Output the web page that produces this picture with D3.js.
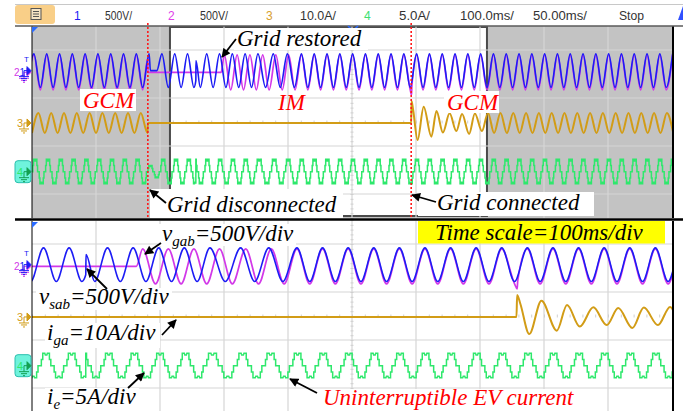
<!DOCTYPE html>
<html lang="en">
<head>
<meta charset="utf-8">
<title>Scope capture</title>
<script src="https://d3js.org/d3.v7.min.js"></script>
<style>
  body { margin: 0; background: #fff; overflow: hidden; }
  .ann { font-family: "Liberation Serif", "Times New Roman", serif; font-style: italic; font-size: 23px; }
  .bar { font-family: "Liberation Sans", Arial, sans-serif; font-size: 12px; }
</style>
</head>
<body>
<script>
// time in ms, values in channel units (V for ch1/ch2, A for ch3/ch4)
var ch1Pts = [
  [-7,-350],[3,350],[13,-350],[23,350],[33,-350],[43,350],[53,-350],[63,350],[73,-350],[83,350],
  [93,-350],[103,350],[113,-350],[123,350],[133,-350],[143,350],[153,-350],[163,350],[173,-350],[183,350],
  [185,0],[195,0],[203,350],[213,-350],[223,350],[233,-350],[243,350],[253,-350],[256,-210],[256.2,210],
  [263,-350],[273,350],[283,-350],[293,350],[303,-350],[313,350],[323,-350],[333,350],[343,-350],[353,350],
  [365,-350],[377,350],[388,-350],[399,350],[410,-350],[421,350],[431,-350],[441,350],[451,-350],[461,350],
  [471,-350],[481,350],[491,-350],[501,350],[511,-350],[521,350],[531,-350],[541,350],[551,-350],[561,350],
  [571,-350],[581,350],[591,-350],[601,350],[611,-350],[621,350],[631,-350],[641,350],[651,-350],[661,350],
  [671,-350],[681,350],[691,-350],[701,350],[711,-350],[721,350],[731,-350],[741,350],[751,-350],[761,350],
  [771,-350],[781,350],[791,-350],[801,350],[811,-350],[821,350],[831,-350],[841,350],[851,-350],[861,350],
  [871,-350],[881,350],[891,-350],[901,350],[911,-350],[921,350],[931,-350],[941,350],[951,-350],[961,350],
  [971,-350],[981,350],[991,-350],[1001,350]
];
var ch2Pts = [
  [-7,-365],[3,365],[13,-365],[23,365],[33,-365],[43,365],[53,-365],[63,365],[73,-365],[83,365],
  [93,-365],[103,365],[113,-365],[123,365],[133,-365],[143,365],[153,-365],[163,365],[173,-365],[181,295],
  [181.3,0],[295.5,0],[300.5,365],[310.5,-365],[320.5,365],[330.5,-365],[340.5,365],[350.5,-365],[360.5,365],[370.5,-365],
  [381,365],[391,-365],[401,365],[411,-365],[421,365],[431,-365],[441,365],[451,-365],[461,365],[471,-365],
  [481,365],[491,-365],[501,365],[511,-365],[521,365],[531,-365],[541,365],[551,-365],[561,365],[571,-365],
  [581,365],[591,-365],[593,-470],[593.5,-300],[601,365],[611,-365],[621,365],[631,-365],[641,365],[651,-365],
  [661,365],[671,-365],[681,365],[691,-365],[701,365],[711,-365],[721,365],[731,-365],[741,365],[751,-365],
  [761,365],[771,-365],[781,365],[791,-365],[801,365],[811,-365],[821,365],[831,-365],[841,365],[851,-365],
  [861,365],[871,-365],[881,365],[891,-365],[901,365],[911,-365],[921,365],[931,-365],[941,365],[951,-365],
  [961,365],[971,-365],[981,365],[991,-365],[1001,365]
];
var ch3Pts = [
  [0,-4.2],[10,4.2],[20,-4.2],[30,4.2],[40,-4.2],[50,4.2],[60,-4.2],[70,4.2],[80,-4.2],[90,4.2],
  [100,-4.2],[110,4.2],[120,-4.2],[130,4.2],[140,-4.2],[150,4.2],[160,-4.2],[170,4.2],[180.5,-4.2],[181,0],
  [592.5,0],[593,9.2],[595.5,5.5],[602.5,-7.1],[612,6.8],[624,-5.7],[632,5.0],[642,-4.0],[652.5,4.0],[663,-3.4],
  [672,3.7],[683,-4.6],[692,3.9],[703,-3.4],[712.5,4.2],[722,-4.2],[732,4.2],[742,-4.2],[752,4.2],[762,-4.2],
  [772,4.2],[782,-4.2],[792,4.2],[802,-4.2],[812,4.2],[822,-4.2],[832,4.2],[842,-4.2],[852,4.2],[862,-4.2],
  [872,4.2],[882,-4.2],[892,4.2],[902,-4.2],[912,4.2],[922,-4.2],[932,4.2],[942,-4.2],[952,4.2],[962,-4.2],
  [972,4.2],[982,-4.2],[992,4.2],[1002,-4.2]
];
// one period of the stepped EV current: [phase 0..1, amps]
var ch4Shape = [
  [0,0],[0.065,0],[0.065,1.3],[0.12,1.3],[0.12,2.6],[0.2,2.6],[0.22,2.2],[0.28,2.2],[0.3,2.6],[0.38,2.6],
  [0.38,1.3],[0.435,1.3],[0.435,0],[0.565,0],[0.565,-1.3],[0.62,-1.3],[0.62,-2.5],[0.7,-2.5],[0.72,-2.2],
  [0.78,-2.2],[0.8,-2.5],[0.88,-2.5],[0.88,-1.3],[0.935,-1.3],[0.935,0],[1,0]
];
// cycles of ch4: [start ms, period ms, drawn from, amplitude factor]
var ch4Cycles = [
  [0,20],[20,20],[40,20],[60,20],[80,20],[100,20],[120,20],[140,20],[160,20],[180,20,180,0.5],
  [200,20],[220,20],[240,20],[249,20,256],[269,20],[289,20],[309,20],[329,20],[349,24],[373,22],
  [395,21.5],[416.5,20],[436.5,20],[456.5,20],[476.5,20],[496.5,20],[516.5,20],[536.5,20],[556.5,20],[576.5,20],
  [596.5,20],[616.5,20],[636.5,20],[656.5,20],[676.5,20],[696.5,20],[716.5,20],[736.5,20],[756.5,20],[776.5,20],
  [796.5,20],[816.5,20],[836.5,20],[856.5,20],[876.5,20],[896.5,20],[916.5,20],[936.5,20],[956.5,20],[976.5,20],
  [996.5,20]
];
var mainWindow = [0, 1000];
var zoomWindow = [214, 714];
var eventTimes = [181, 592.5];   // grid disconnected, grid connected

var chNames = ["1", "2", "3", "4"];
var chScale = [500, 500, 10, 5];          // units per division
var chOffset = [2.14, 2.07, -0.04, -2.07]; // ground position, divisions
var chColor = ["#1c1cf5", "#d238e8", "#d29c16", "#2ee86c"];

var barLabels = ["1", "500V/", "2", "500V/", "3", "10.0A/", "4", "5.0A/", "100.0ms/", "50.00ms/", "Stop"];

var w = 683, h = 411;
var svg = d3.select("body").append("svg").attr("width", w).attr("height", h);

var defs = svg.append("defs");
defs.append("marker").attr("id", "ah").attr("viewBox", "0 0 10 10")
  .attr("refX", 9).attr("refY", 5).attr("markerWidth", 10).attr("markerHeight", 9)
  .attr("markerUnits", "userSpaceOnUse").attr("orient", "auto")
  .append("path").attr("d", "M0,0L10,5L0,10z").attr("fill", "#000");

var xUp = d3.scaleLinear().domain(mainWindow).range([32, 672]);
var xLow = d3.scaleLinear().domain(zoomWindow).range([32, 672]);
var yUp = d3.scaleLinear().domain([-4, 4]).range([218, 26]);
var yLow = d3.scaleLinear().domain([-4, 4]).range([412, 220]);

var panels = [
  {id: "up", x: xUp, y: yUp, top: 26, bottom: 218, tick: 20},
  {id: "low", x: xLow, y: yLow, top: 221, bottom: 411, tick: 10}
];

// ---- top bar ----
svg.append("line").attr("x1", 15).attr("x2", 683).attr("y1", 4.5).attr("y2", 4.5)
  .attr("stroke", "#c8c8c8");
svg.append("rect").attr("x", 15).attr("y", 5).attr("width", 40).attr("height", 19).attr("rx", 3)
  .attr("fill", "#f9cf88");
svg.append("rect").attr("x", 31).attr("y", 8.5).attr("width", 10).attr("height", 11)
  .attr("fill", "#f6e4c4").attr("stroke", "#555");
[11.5, 14, 16.5].forEach(function(yy) {
  svg.append("line").attr("x1", 33).attr("x2", 39).attr("y1", yy).attr("y2", yy).attr("stroke", "#555");
});
var barX = [74, 105, 168, 200, 266, 300, 364, 399, 460, 533, 619];
var barW = [0, 27, 0, 28, 0, 36, 0, 31, 54, 54, 25];
var barCol = [chColor[0], "#333", "#e040e8", "#333", "#d8a030", "#333", "#3ce070", "#333", "#333", "#333", "#333"];
svg.selectAll(".barlab").data(barLabels).enter().append("text")
  .attr("class", "bar")
  .attr("x", function(d, i) { return barX[i]; })
  .attr("y", 19.5)
  .attr("fill", function(d, i) { return barCol[i]; })
  .each(function(d, i) {
    if (barW[i]) d3.select(this).attr("textLength", barW[i]).attr("lengthAdjust", "spacingAndGlyphs");
  })
  .text(function(d) { return d; });
svg.append("path").attr("d", "M683,6L678,20L683,20z").attr("fill", "#3050ff");

// ---- panels ----
function yOf(p, ch, v) { return p.y(v / chScale[ch] + chOffset[ch]); }

function valAt(shape, ph) {
  var v = shape[0][1];
  for (var i = 0; i < shape.length; i++) { if (shape[i][0] <= ph) v = shape[i][1]; else break; }
  return v;
}

function ch4Points() {
  var pts = [];
  ch4Cycles.forEach(function(c, i) {
    var t0 = c[0], per = c[1];
    var from = c.length > 2 ? c[2] : t0;
    var k = c.length > 3 ? c[3] : 1;
    var nx = ch4Cycles[i + 1];
    var end = nx ? (nx.length > 2 ? nx[2] : nx[0]) : t0 + per;
    pts.push([from, k * valAt(ch4Shape, (from - t0) / per)]);
    ch4Shape.forEach(function(s) {
      var t = t0 + s[0] * per;
      if (t > from && t < end) pts.push([t, k * s[1]]);
    });
    pts.push([end, k * valAt(ch4Shape, (end - t0) / per)]);
  });
  return pts;
}
var ch4Pts = ch4Points();

function markerText(m, x, y, size) {
  return m.append("text").attr("x", x).attr("y", y)
    .style("font-family", "Liberation Sans, Arial, sans-serif").style("font-size", size);
}

panels.forEach(function(p) {
  var g = svg.append("g");
  defs.append("clipPath").attr("id", "clip-" + p.id).append("rect")
    .attr("x", 32).attr("y", p.top).attr("width", 641).attr("height", p.bottom - p.top);

  if (p.id === "up") {
    g.append("rect").attr("x", 32).attr("y", p.top).attr("width", 641).attr("height", p.bottom - p.top)
      .attr("fill", "#c3c3c3");
    g.append("rect").attr("x", xUp(zoomWindow[0]) + 1).attr("y", 27)
      .attr("width", xUp(zoomWindow[1]) - xUp(zoomWindow[0]) - 3).attr("height", 189)
      .attr("fill", "#fff").attr("stroke", "#4a4a4a").attr("stroke-width", 2);
  } else {
    g.append("rect").attr("x", 32).attr("y", p.top).attr("width", 641).attr("height", p.bottom - p.top)
      .attr("fill", "#fff");
  }

  // graticule
  var gx = d3.range(1, 10).map(function(i) { return 32 + i * 64; });
  g.selectAll(".vg").data(gx).enter().append("line")
    .attr("x1", function(d) { return d; }).attr("x2", function(d) { return d; })
    .attr("y1", p.top).attr("y2", p.bottom).attr("stroke", "#d6d6d6").attr("stroke-width", 1.2);
  g.selectAll(".hg").data([-3, -1, 1, 3]).enter().append("line")
    .attr("x1", 32).attr("x2", 673)
    .attr("y1", function(d) { return p.y(d); }).attr("y2", function(d) { return p.y(d); })
    .attr("stroke", "#d6d6d6").attr("stroke-width", 1.2);
  var tAxis = g.append("g").attr("transform", "translate(0," + (p.y(0) - 1.5) + ")")
    .call(d3.axisBottom(p.x).tickValues(d3.range(p.x.domain()[0], p.x.domain()[1] + 1, p.tick))
      .tickSize(3).tickFormat(""));
  tAxis.select(".domain").remove();
  tAxis.selectAll("line").attr("stroke", "#cfcfcf");
  var vAxis = g.append("g").attr("transform", "translate(" + (352 - 1.5) + ",0)")
    .call(d3.axisRight(p.y).tickValues(d3.range(-4, 4.01, 0.2)).tickSize(3).tickFormat(""));
  vAxis.select(".domain").remove();
  vAxis.selectAll("line").attr("stroke", "#cfcfcf");

  var traces = g.append("g").attr("clip-path", "url(#clip-" + p.id + ")");
  var smooth = function(ch) {
    return d3.line().x(function(d) { return p.x(d[0]); }).y(function(d) { return yOf(p, ch, d[1]); })
      .curve(d3.curveMonotoneX);
  };
  traces.append("path").attr("d", smooth(1)(ch2Pts)).attr("fill", "none")
    .attr("stroke", chColor[1]).attr("stroke-width", 1.7);
  traces.append("path").attr("d", smooth(0)(ch1Pts)).attr("fill", "none")
    .attr("stroke", chColor[0]).attr("stroke-width", 1.6);
  traces.append("path").attr("d", smooth(2)(ch3Pts)).attr("fill", "none")
    .attr("stroke", chColor[2]).attr("stroke-width", 2);
  traces.append("path")
    .attr("d", d3.line().x(function(d) { return p.x(d[0]); }).y(function(d) { return yOf(p, 3, d[1]); })(ch4Pts))
    .attr("fill", "none").attr("stroke", chColor[3]).attr("stroke-width", 1.5);

  // frame
  g.append("line").attr("x1", 32).attr("x2", 32).attr("y1", p.top).attr("y2", p.bottom).attr("stroke", "#000");
  g.append("line").attr("x1", 673).attr("x2", 673).attr("y1", p.top).attr("y2", p.bottom)
    .attr("stroke", "#000").attr("stroke-width", 2);
  g.append("path").attr("d", "M32," + (p.top + 1) + "l6,0l-6,6z").attr("fill", "#2a6bff");

  // channel ground markers (ch1 and ch2 share one spot)
  [1, 0, 2, 3].forEach(function(ch) {
    var y = yOf(p, ch, 0);
    var col = chColor[ch];
    var m = svg.append("g");
    if (ch === 3) {
      m.append("rect").attr("x", 15).attr("y", y - 11).attr("width", 16).attr("height", 22).attr("rx", 3)
        .attr("fill", "#6ff3dc").attr("stroke", "#2bbfae");
      col = "#12a050";
    }
    if (ch === 1) {
      var lab = markerText(m, 14, y + 4, "10px");
      lab.append("tspan").attr("fill", chColor[1]).text(chNames[1]);
      lab.append("tspan").attr("fill", chColor[0]).text(chNames[0]);
    } else if (ch !== 0) {
      markerText(m, 17, y + 4, "11px").attr("fill", ch === 3 ? chColor[3] : col).text(chNames[ch]);
    }
    m.append("path").attr("d", "M24," + y + "H27M27," + (y - 4) + "L31," + y + "L27," + (y + 4) + "z")
      .attr("stroke", col).attr("fill", col);
    m.append("path")
      .attr("d", "M24," + y + "V" + (y + 6) + "M19," + (y + 6) + "H29M21," + (y + 8) + "H27M23," + (y + 10) + "H25")
      .attr("stroke", col).attr("fill", "none");
    if (ch === 0) {
      markerText(m, 24, y - 9, "8px").attr("fill", col).text("T");
    }
  });
});

// panel borders
svg.append("line").attr("x1", 15).attr("x2", 683).attr("y1", 26).attr("y2", 26).attr("stroke", "#5a5a5a").attr("stroke-width", 1.5);
svg.append("line").attr("x1", 15).attr("x2", 683).attr("y1", 219.5).attr("y2", 219.5).attr("stroke", "#000").attr("stroke-width", 2.5);
svg.append("path").attr("d", "M348,26q5,6 10,0").attr("fill", "none").attr("stroke", "#2a6bff").attr("stroke-width", 1.5);

// event lines on the main window
svg.selectAll(".ev").data(eventTimes).enter().append("line")
  .attr("x1", function(d) { return xUp(d); }).attr("x2", function(d) { return xUp(d); })
  .attr("y1", 23).attr("y2", 218)
  .attr("stroke", "#ff1a1a").attr("stroke-width", 1.6).attr("stroke-dasharray", "2,2");

// ---- annotations ----
function box(x, y, bw, bh, fill) {
  svg.append("rect").attr("x", x).attr("y", y).attr("width", bw).attr("height", bh).attr("fill", fill || "#fff");
}
function annot(x, y, parts, color) {
  var t = svg.append("text").attr("class", "ann").attr("x", x).attr("y", y).attr("fill", color || "#000");
  var shift = 0;
  parts.forEach(function(pt) {
    var sub = pt[1];
    var dy = (sub ? 5 : 0) - shift;
    shift = sub ? 5 : 0;
    t.append("tspan").attr("dy", dy).style("font-size", sub ? "15px" : null).text(pt[0]);
  });
}
function arrow(x1, y1, x2, y2) {
  svg.append("line").attr("x1", x1).attr("y1", y1).attr("x2", x2).attr("y2", y2)
    .attr("stroke", "#000").attr("stroke-width", 1.8).attr("marker-end", "url(#ah)");
}

box(234, 28, 134, 22);
annot(237, 46, [["Grid restored"]]);
arrow(236, 39, 222, 57);

box(80, 89, 56, 22);
annot(83, 107.5, [["GCM"]], "#ff0000");
annot(278, 110, [["IM"]], "#ff0000");
box(444, 91, 55, 22);
annot(447, 110, [["GCM"]], "#ff0000");

box(150, 189, 193, 29);
annot(167, 212, [["Grid disconnected"]]);
arrow(166, 203, 150, 190);

box(418, 192, 176, 24);
annot(437, 210, [["Grid connected"]]);
arrow(436, 202, 412, 195);

box(418, 221, 247, 22.5, "#ffff00");
annot(435, 240, [["Time scale=100ms/div"]]);

box(158, 224, 138, 22);
annot(162, 241, [["v"], ["gab", 1], ["=500V/div"]]);
arrow(161, 243, 145, 254);

box(36, 288, 136, 22);
annot(39, 304, [["v"], ["sab", 1], ["=500V/div"]]);
arrow(107, 289, 87, 269);

box(45, 323, 115, 25);
annot(47, 340, [["i"], ["ga", 1], ["=10A/div"]]);
arrow(162, 335, 176, 320);

box(45, 388, 94, 23);
annot(47, 404, [["i"], ["e", 1], ["=5A/div"]]);
arrow(128, 388, 144, 373);

box(320, 389, 260, 22);
annot(323, 405, [["Uninterruptible EV current"]], "#ff0000");
arrow(317, 393, 290, 379);
</script>
</body>
</html>
